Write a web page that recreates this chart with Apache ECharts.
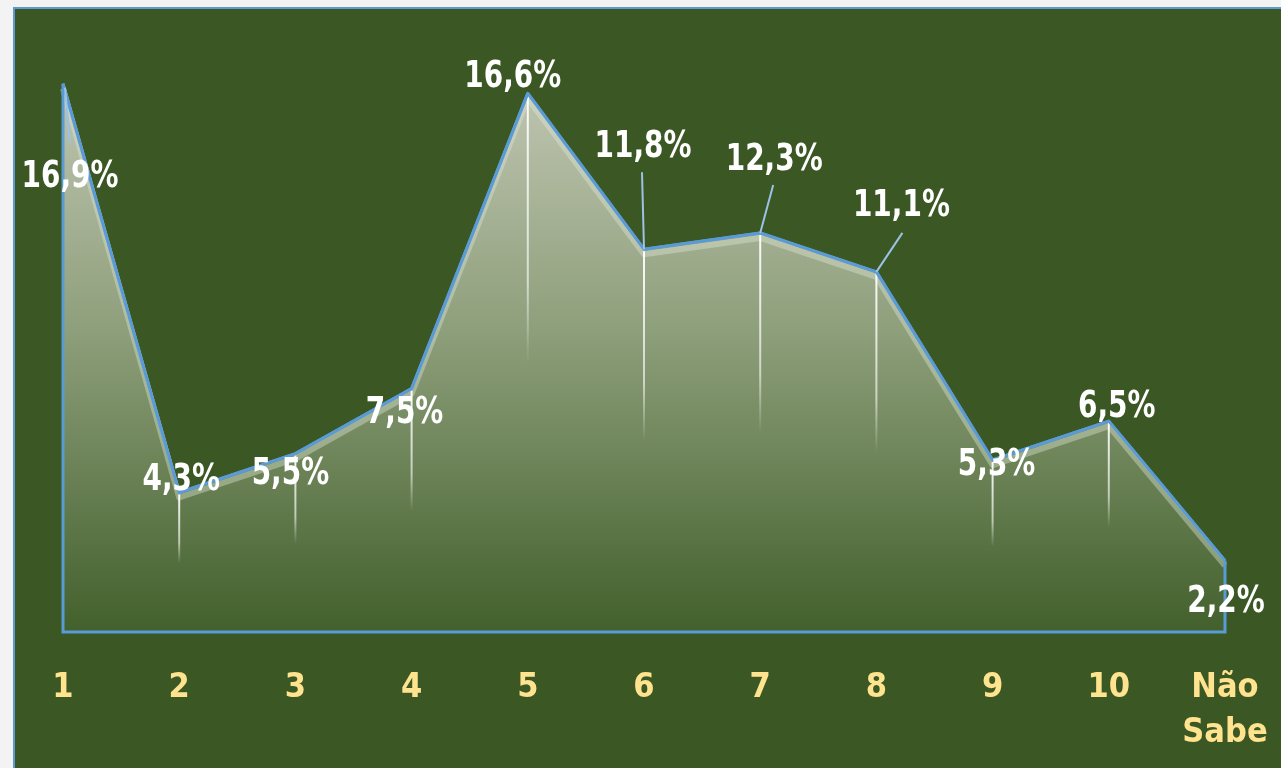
<!DOCTYPE html>
<html>
<head>
<meta charset="utf-8">
<script src="https://cdn.jsdelivr.net/npm/echarts@6/dist/echarts.min.js"></script>
<style>
html,body{margin:0;padding:0;background:#f3f3f3;}
#chart{position:absolute;left:0;top:0;width:1281px;height:768px;}
</style>
</head>
<body>
<div id="chart"></div>
<script>
var categories = ['1','2','3','4','5','6','7','8','9','10','Não\nSabe'];
var values = [16.9, 4.3, 5.5, 7.5, 16.6, 11.8, 12.3, 11.1, 5.3, 6.5, 2.2];
var valueLabels = ['16,9%','4,3%','5,5%','7,5%','16,6%','11,8%','12,3%','11,1%','5,3%','6,5%','2,2%'];

var FONT = '"Liberation Sans Narrow","DejaVu Sans Condensed","Arial Narrow",sans-serif';
var BG = '#3a5724';
var LINE = '#5b9bd5';

// label offsets (px) relative to each point
var labelOffsets = [[7,94],[2,-12],[-5,21],[-7,25],[-15,-16],[-1,-102],[14,-73],[25,-65],[4,5],[8,-14],[1,42]];
// leader lines: index -> end offset from point
var leaders = {0:[7,59],5:[-2,-77],6:[13,-48],7:[26,-39]};

var chart = echarts.init(document.getElementById('chart'));

chart.setOption({
  backgroundColor: BG,
  animation: false,
  graphic: [
    {type:'rect', shape:{x:0,y:0,width:13,height:768}, style:{fill:'#f3f3f3'}, z:100},
    {type:'rect', shape:{x:0,y:0,width:1281,height:7}, style:{fill:'#f3f3f3'}, z:100},
    {type:'polyline', shape:{points:[[14,768],[14,8],[1281,8]]}, style:{stroke:LINE, lineWidth:2, fill:null}, z:101}
  ],
  grid: {left:63, right:56, top:48, bottom:136},
  xAxis: {
    type:'category',
    data: categories,
    boundaryGap:false,
    axisLine:{show:false},
    axisTick:{show:false},
    splitLine:{show:false},
    axisLabel:{
      color:'#ffe38f',
      fontFamily:FONT,
      fontWeight:'bold',
      fontSize:34,
      lineHeight:45,
      margin:34,
      interval:0
    }
  },
  yAxis: {type:'value', min:0, max:18, show:false, splitLine:{show:false}},
  series: [
    {
      type:'line',
      data: values,
      symbol:'none',
      lineStyle:{color:LINE, width:3},
      areaStyle:{
        color: new echarts.graphic.LinearGradient(0,0,0,1,[
          {offset:0,color:'#bfc5b1'},
          {offset:0.45,color:'#8e9f7b'},
          {offset:1,color:'#42602c'}
        ]),
        opacity:1
      },
      z:2
    },
    {
      type:'custom',
      data: values.map(function(v,i){return [i,v];}),
      renderItem:function(params, api){
        if (params.dataIndex !== 0) return null;
        var children = [];
        var pts = values.map(function(v,i){return api.coord([i,v]);});
        var n = pts.length;
        var base = api.coord([0,0])[1];
        // inner glow under the top line
        children.push({
          type:'polyline',
          shape:{points: pts.map(function(p){return [p[0], p[1]+5];})},
          style:{stroke:'rgba(225,232,215,0.4)', lineWidth:6, fill:null, lineJoin:'round'},
          z2:1
        });
        // drop lines
        for (var i=0;i<n;i++){
          var p = pts[i];
          var bottom = api.coord([i, values[i]*0.5])[1];
          if (i === n-1) bottom = base;
          children.push({
            type:'line',
            shape:{x1:p[0],y1:p[1]+2,x2:p[0],y2:bottom},
            style:{
              stroke:new echarts.graphic.LinearGradient(0,0,0,1,[
                {offset:0,color:'rgba(255,255,255,0.95)'},
                {offset:0.7,color:'rgba(255,255,255,0.6)'},
                {offset:1,color:'rgba(255,255,255,0)'}
              ]),
              lineWidth:2
            },
            z2:2
          });
        }
        // outline edges of the area
        children.push({
          type:'polyline',
          shape:{points:[[pts[0][0],pts[0][1]],[pts[0][0],base],[pts[n-1][0],base],[pts[n-1][0],pts[n-1][1]]]},
          style:{stroke:LINE, lineWidth:3, fill:null},
          z2:3
        });
        // top line redrawn above glow
        children.push({
          type:'polyline',
          shape:{points: pts},
          style:{stroke:LINE, lineWidth:3, fill:null, lineJoin:'round'},
          z2:4
        });
        // leader lines
        Object.keys(leaders).forEach(function(k){
          var p = pts[+k], o = leaders[k];
          children.push({
            type:'line',
            shape:{x1:p[0]+(+k===0?2:0),y1:p[1]+(+k===0?4:0),x2:p[0]+o[0],y2:p[1]+o[1]},
            style:{stroke:'#9cc2e5', lineWidth:2},
            z2:5
          });
        });
        // value labels
        for (var j=0;j<n;j++){
          children.push({
            type:'text',
            x: pts[j][0] + labelOffsets[j][0],
            y: pts[j][1] + labelOffsets[j][1],
            scaleX: 0.84,
            style:{
              text: valueLabels[j],
              fill:'#ffffff',
              font:'bold 37px ' + FONT,
              align:'center',
              verticalAlign:'middle'
            },
            z2:6
          });
        }
        return {type:'group', children:children};
      },
      silent:true,
      clip:false,
      z:3
    }
  ]
});
</script>
</body>
</html>
